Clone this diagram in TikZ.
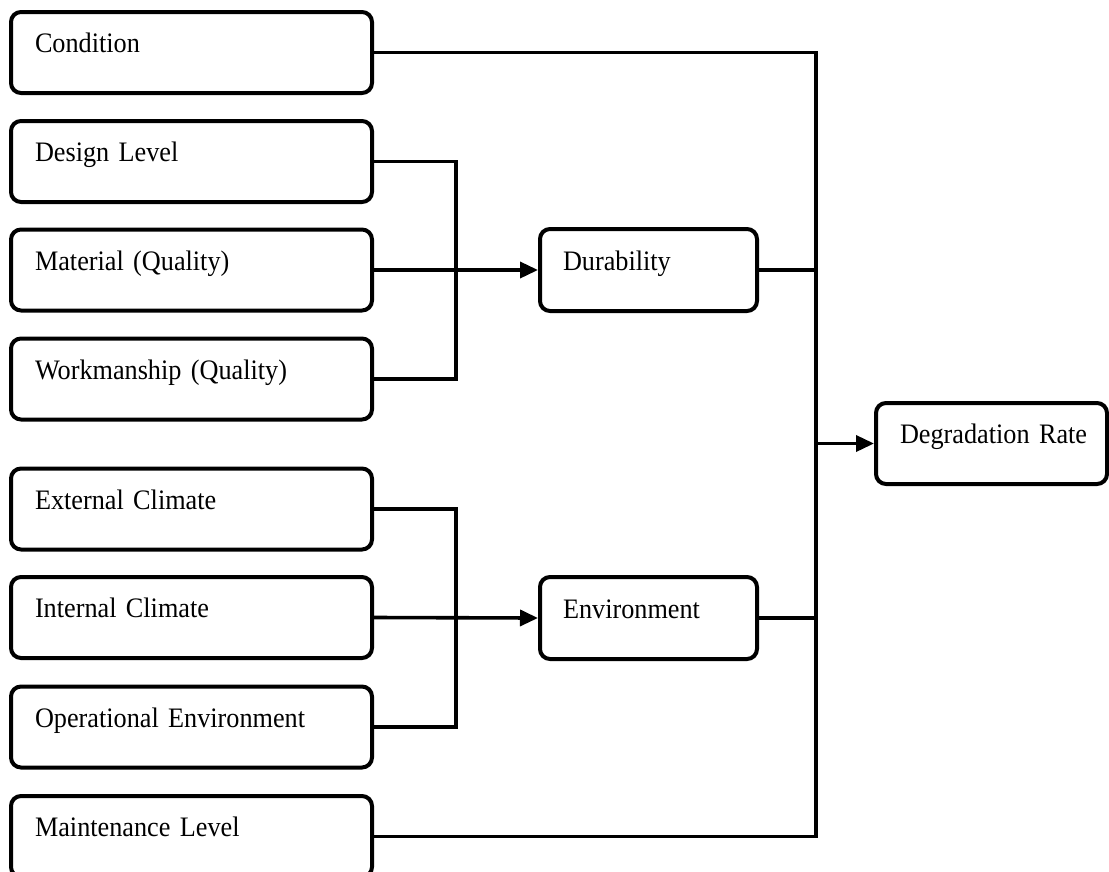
\documentclass[tikz,border=0pt]{standalone}
\usepackage{fontspec}
\setmainfont[FakeStretch=0.93]{Liberation Serif}
\usetikzlibrary{arrows.meta}

\tikzset{
  factor/.style={draw, line width=4pt, rounded corners=10pt,
    minimum width=361pt, minimum height=81pt, inner xsep=24pt,
    text width=313pt, align=left, text height=9pt, text depth=9pt,
    font=\fontsize{28.2}{32}\selectfont},
  group/.style={factor, minimum width=217pt, minimum height=82pt,
    inner xsep=23pt, text width=171pt},
  result/.style={factor, minimum width=231pt, inner xsep=24pt, text width=183pt},
  link/.style={line width=3.6pt},
  feed/.style={link, -{Triangle[length=18pt,width=16pt]}}
}

\begin{document}
\begin{tikzpicture}[x=1pt, y=-1pt]
  \clip (0,0) rectangle (1109,871);
  \fill[white] (0,0) rectangle (1109,871);

  % input factors
  \node[factor] (cond)  at (191.5, 52.5)  {Condition};
  \node[factor] (design) at (191.5, 161.5) {Design Level};
  \node[factor] (mat)   at (191.5, 270)   {Material (Quality)};
  \node[factor] (work)  at (191.5, 379)   {Workmanship (Quality)};
  \node[factor] (ext)   at (191.5, 509)   {External Climate};
  \node[factor] (int)   at (191.5, 617.5) {Internal Climate};
  \node[factor] (oper)  at (191.5, 727)   {Operational Environment};
  \node[factor] (maint) at (191.5, 836.5) {Maintenance Level};

  % intermediate groups and result
  \node[group] (dur) at (648.5, 270) {Durability};
  \node[group] (env) at (648.5, 618) {Environment};
  \node[result] (deg) at (991.5, 443.5) {\makebox[183pt][l]{Degradation Rate}};

  % bus lines
  \coordinate (bx) at (456, 0);
  \coordinate (rx) at (816, 0);

  % durability bracket
  \draw[link] (design.east) -| (bx |- work.east) -- (work.east);
  \draw[feed] (mat.east) -- (dur.west);

  % environment bracket
  \draw[link] (ext.east) -| (bx |- oper.east) -- (oper.east);
  \draw[feed] (int.east) -- (env.west);

  % collector to degradation rate
  \draw[link] (cond.east) -| (rx |- maint.east) -- (maint.east);
  \draw[link] (dur.east) -- (dur.east -| rx);
  \draw[link] (env.east) -- (env.east -| rx);
  \draw[feed] (deg.west -| rx) -- (deg.west);
\end{tikzpicture}
\end{document}
